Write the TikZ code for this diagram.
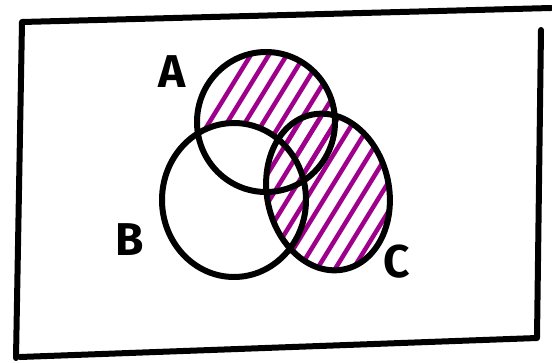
\documentclass[tikz,border=0pt]{standalone}
\usepackage{fontspec}
\setmainfont{Fira Sans}
\definecolor{hatchpurple}{RGB}{158,0,140}
\begin{document}
\begin{tikzpicture}[x=1pt,y=-1pt,
    setline/.style={line width=6pt,line cap=round,line join=round},
    hatchline/.style={hatchpurple,line width=4.5pt,line cap=round},
    setlabel/.style={font=\fontsize{46}{46}\selectfont\bfseries,inner sep=0pt}]
    \useasboundingbox (0,0) rectangle (552,362);
    %centri degli insiemi
    \coordinate (cA) at (266,122);
    \coordinate (cB) at (234,200);
    \coordinate (cC) at (328,192);

    %tratteggio di C
    \begin{scope}
        \clip[rotate around={12:(cC)}] (cC) ellipse (61 and 79);
        \foreach \x in {100,118,...,480}
            \draw[hatchline] (\x,300) -- ++(160,-260);
    \end{scope}
    %tratteggio di A fuori da B
    \begin{scope}[even odd rule]
        \clip (cA) ellipse (69 and 70);
        \clip (0,0) rectangle (552,362) (cB) ellipse (72 and 77);
        \foreach \x in {100,118,...,480}
            \draw[hatchline] (\x,300) -- ++(160,-260);
    \end{scope}

    %insiemi
    \draw[setline] (cA) ellipse (69 and 70);
    \draw[setline] (cB) ellipse (72 and 77);
    \draw[setline,rotate around={12:(cC)}] (cC) ellipse (61 and 79);

    %universo
    \draw[setline] (16,358) -- (22,22) -- (551,8);
    \draw[setline] (541,30) -- (537,338) -- (20,357);

    %etichette
    \node[setlabel] (labA) at (172,72) {A};
    \node[setlabel] (labB) at (130,240) {B};
    \node[setlabel] (labC) at (397,262) {C};
\end{tikzpicture}
\end{document}
